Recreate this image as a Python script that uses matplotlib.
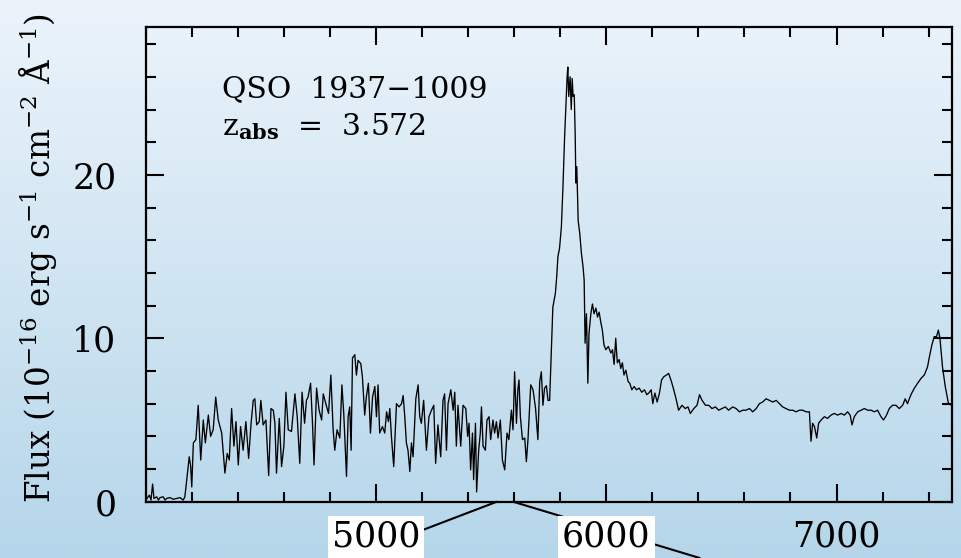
import numpy as np
import matplotlib
matplotlib.use("Agg")
import matplotlib.pyplot as plt
from matplotlib.patches import ConnectionPatch

plt.rcParams['font.family'] = ['DejaVu Serif']
plt.rcParams['mathtext.fontset'] = 'dejavuserif'

# ---- data ----
wavelength = [
    4000, 4016, 4023, 4030, 4036, 4048, 4055, 4062, 4076, 4084, 4091, 4105, 4120, 4134, 4149, 4163,
    4170, 4178, 4189, 4195, 4200, 4207, 4218, 4228, 4239, 4250, 4259, 4272, 4282, 4293, 4304, 4315,
    4330, 4344, 4354, 4363, 4373, 4383, 4392, 4402, 4412, 4423, 4435, 4447, 4457, 4467, 4474, 4482,
    4493, 4500, 4510, 4522, 4534, 4544, 4554, 4561, 4568, 4580, 4590, 4600, 4609, 4619, 4633, 4648,
    4658, 4669, 4679, 4690, 4698, 4705, 4716, 4724, 4731, 4742, 4753, 4764, 4771, 4782, 4794, 4804,
    4814, 4821, 4831, 4843, 4852, 4860, 4872, 4879, 4886, 4892, 4898, 4908, 4915, 4922, 4934, 4941,
    4951, 4958, 4967, 4976, 4985, 4995, 5002, 5009, 5016, 5028, 5038, 5046, 5054, 5060, 5067, 5077,
    5089, 5100, 5111, 5118, 5125, 5132, 5139, 5147, 5154, 5161, 5173, 5183, 5190, 5197, 5207, 5219,
    5230, 5241, 5251, 5259, 5269, 5281, 5291, 5298, 5306, 5313, 5325, 5335, 5342, 5349, 5356, 5368,
    5378, 5390, 5398, 5404, 5411, 5419, 5424, 5432, 5437, 5446, 5453, 5458, 5465, 5475, 5482, 5491,
    5498, 5508, 5515, 5523, 5530, 5540, 5549, 5559, 5569, 5577, 5588, 5595, 5602, 5610, 5616, 5621,
    5627, 5636, 5646, 5653, 5660, 5672, 5682, 5693, 5703, 5711, 5718, 5725, 5732, 5740, 5747, 5754,
    5761, 5768, 5779, 5785, 5790, 5797, 5805, 5812, 5819, 5826, 5830, 5833, 5837, 5843, 5848, 5852,
    5856, 5861, 5865, 5868, 5872, 5878, 5885, 5892, 5899, 5904, 5908, 5914, 5920, 5925, 5933, 5940,
    5947, 5955, 5962, 5969, 5976, 5983, 5990, 5998, 6009, 6020, 6027, 6034, 6041, 6048, 6056, 6063,
    6070, 6077, 6085, 6095, 6102, 6111, 6121, 6131, 6143, 6154, 6166, 6176, 6185, 6195, 6202, 6211,
    6221, 6231, 6240, 6250, 6261, 6271, 6283, 6293, 6303, 6314, 6329, 6343, 6355, 6365, 6380, 6394,
    6405, 6416, 6431, 6445, 6459, 6474, 6488, 6503, 6517, 6531, 6549, 6564, 6578, 6593, 6607, 6622,
    6636, 6651, 6665, 6679, 6694, 6708, 6723, 6738, 6752, 6766, 6781, 6795, 6810, 6824, 6839, 6853,
    6868, 6882, 6889, 6896, 6904, 6914, 6922, 6933, 6947, 6961, 6976, 6990, 7005, 7020, 7034, 7048,
    7059, 7067, 7077, 7092, 7106, 7121, 7135, 7150, 7164, 7178, 7193, 7204, 7217, 7229, 7243, 7258,
    7272, 7287, 7298, 7308, 7323, 7338, 7352, 7367, 7381, 7395, 7403, 7414, 7424, 7434, 7442, 7449,
    7460, 7472, 7486, 7500,
]
flux = [
    0.1, 0.4, 0.1, 1.08, 0.2, 0.3, 0.1, 0.25, 0.3, 0.1, 0.2, 0.25, 0.15, 0.2, 0.25, 0.1,
    0.3, 1.3, 2.75, 2.2, 0.9, 3.6, 3.8, 5.9, 2.55, 5.0, 3.6, 5.3, 4.0, 4.4, 6.4, 5.0,
    4.2, 1.75, 2.95, 2.55, 5.7, 3.4, 4.9, 2.25, 4.6, 3.15, 4.9, 2.65, 4.7, 6.2, 6.3, 4.7,
    4.9, 6.2, 4.7, 5.0, 1.6, 5.7, 5.6, 4.8, 1.75, 5.1, 2.15, 3.4, 6.7, 4.4, 4.3, 6.6,
    5.2, 2.35, 6.7, 4.8, 6.2, 6.4, 7.25, 4.9, 2.25, 6.95, 5.6, 5.0, 6.6, 6.0, 5.4, 7.75,
    4.4, 3.15, 4.4, 3.9, 7.15, 5.4, 1.55, 5.2, 5.8, 3.15, 8.8, 9.0, 7.75, 8.65, 8.45, 7.65,
    5.3, 6.4, 7.25, 4.2, 6.4, 7.05, 5.2, 7.15, 4.2, 4.6, 4.2, 5.5, 4.9, 5.7, 4.0, 2.15,
    6.0, 5.8, 6.0, 6.5, 5.2, 3.6, 3.15, 1.85, 3.6, 2.75, 6.3, 7.15, 5.2, 4.8, 6.2, 3.15,
    5.2, 5.6, 5.9, 2.35, 4.7, 2.75, 6.2, 6.6, 3.15, 6.0, 6.85, 5.6, 6.7, 3.4, 5.9, 3.4,
    5.9, 5.7, 4.0, 4.8, 1.95, 4.2, 1.35, 4.8, 0.6, 3.15, 4.2, 5.8, 3.4, 3.15, 5.0, 5.2,
    3.8, 5.0, 4.2, 4.9, 3.9, 5.0, 2.55, 1.95, 4.2, 3.8, 5.6, 4.4, 7.95, 4.8, 6.85, 7.45,
    5.2, 3.8, 3.9, 2.45, 3.8, 7.15, 6.85, 5.7, 3.8, 7.35, 7.95, 5.9, 6.95, 7.1, 6.2, 6.2,
    9.0, 11.9, 12.75, 13.8, 15.0, 15.5, 16.8, 19.3, 22.3, 24.6, 26.0, 26.6, 24.8, 26.0, 24.0, 25.9,
    24.8, 24.9, 22.5, 19.5, 20.5, 17.2, 16.4, 15.2, 14.4, 13.55, 9.7, 11.5, 7.25, 10.3, 11.5, 12.1,
    11.5, 11.85, 11.3, 11.6, 11.0, 10.5, 9.6, 9.3, 9.5, 9.1, 9.3, 8.4, 10.0, 8.5, 8.7, 8.15,
    8.5, 7.75, 8.05, 7.35, 7.25, 6.85, 7.05, 6.85, 6.95, 6.7, 6.85, 6.55, 6.65, 6.85, 6.0, 6.65,
    6.1, 6.65, 7.45, 7.65, 7.75, 7.85, 7.35, 6.85, 6.3, 5.6, 5.9, 5.7, 5.8, 5.4, 5.7, 5.9,
    6.55, 6.2, 5.9, 5.9, 5.7, 5.8, 5.6, 5.7, 5.8, 5.6, 5.8, 5.7, 5.5, 5.6, 5.6, 5.7,
    5.5, 5.7, 6.0, 6.1, 6.3, 6.2, 6.1, 6.2, 6.0, 5.8, 5.7, 5.6, 5.6, 5.5, 5.6, 5.6,
    5.5, 5.5, 3.7, 4.8, 4.6, 3.9, 4.8, 5.0, 5.2, 5.1, 5.3, 5.4, 5.3, 5.4, 5.3, 5.5,
    5.3, 4.7, 5.2, 5.5, 5.6, 5.7, 5.6, 5.6, 5.5, 5.6, 5.2, 5.0, 5.3, 5.7, 5.9, 5.9,
    5.7, 5.9, 6.3, 6.0, 6.55, 6.95, 7.25, 7.55, 7.75, 8.25, 8.85, 9.6, 10.1, 10.1, 10.5, 10.0,
    8.25, 7.05, 6.0, 5.9,
]
x_ticks = [5000, 6000, 7000]
x_tick_labels = ['5000', '6000', '7000']
y_ticks = [0, 10, 20]
y_tick_labels = ['0', '10', '20']
zoom_range = [5525, 5595]
title_lines = ['QSO  1937\u22121009', r'z$_{\mathbf{abs}}$  =  3.572']

W, H = 962, 558
fig = plt.figure(figsize=(W / 100, H / 100), dpi=100)

# gradient background
bg = fig.add_axes([0, 0, 1, 1], zorder=-10)
top = np.array([236, 244, 251]) / 255.0
bot = np.array([181, 214, 234]) / 255.0
t = np.linspace(0, 1, 256)[:, None]
grad = (top[None, :] * (1 - t) + bot[None, :] * t)[:, None, :]
bg.imshow(grad, aspect='auto', extent=[0, 1, 0, 1])
bg.axis('off')

ax = fig.add_axes([145.7 / W, 1 - 501.7 / H, (951.7 - 145.7) / W, (501.7 - 27) / H])
ax.patch.set_alpha(0)
ax.plot(wavelength, flux, color='black', lw=0.95, zorder=3)
ax.set_xlim(4000, 7500)
ax.set_ylim(0, 29.05)

ax.set_xticks(x_ticks)
ax.set_xticklabels(x_tick_labels)
ax.set_yticks(y_ticks)
ax.set_yticklabels(y_tick_labels)
ax.set_xticks(np.arange(4000, 7501, 200), minor=True)
ax.set_yticks(np.arange(0, 29, 2), minor=True)
ax.tick_params(which='both', direction='in', top=True, right=True, width=1.5, colors='black')
ax.tick_params(which='major', length=13, labelsize=25)
ax.tick_params(which='minor', length=7.5)
ax.tick_params(axis='x', which='major', pad=13)
ax.tick_params(axis='y', which='major', pad=21)
for s in ax.spines.values():
    s.set_linewidth(1.6)

for lab in ax.get_xticklabels()[:2]:
    lab.set_bbox(dict(facecolor='white', edgecolor='none', pad=3))

ax.set_ylabel(r'Flux (10$^{-16}$ erg s$^{-1}$ cm$^{-2}$ $\mathrm{\AA}^{-1}$)', fontsize=23.5)
ax.yaxis.set_label_coords(-0.108, 0.513)

ax.text(4331, 24.77, title_lines[0], fontsize=21.5, va='baseline', ha='left')
ax.text(4331, 22.4, title_lines[1], fontsize=21.5, va='baseline', ha='left')

# zoom indicator lines
for xz, fx in zip(zoom_range, [349.4 / W, 699.7 / W]):
    con = ConnectionPatch(xyA=(xz, 0), coordsA='data', xyB=(fx, 0.0), coordsB='figure fraction',
                          axesA=ax, color='black', lw=1.5, zorder=1, clip_on=False)
    ax.add_artist(con)

fig.savefig('out.png', dpi=100)
